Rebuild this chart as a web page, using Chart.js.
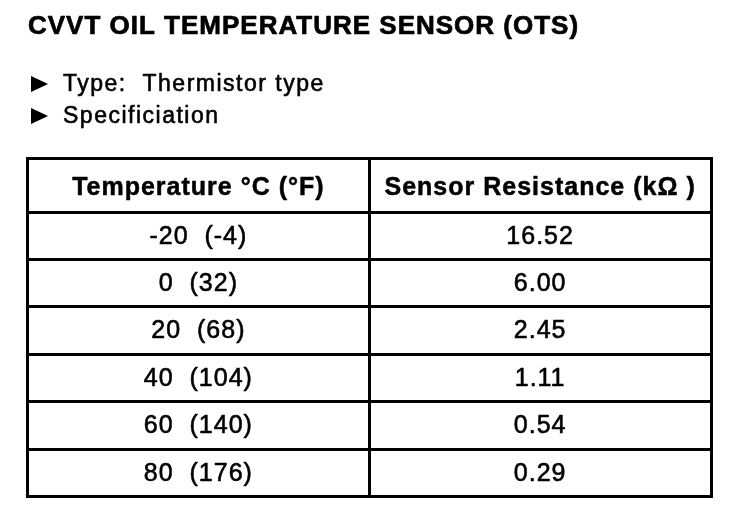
<!DOCTYPE html>
<html>
<head>
<meta charset="utf-8">
<script src="https://cdn.jsdelivr.net/npm/chart.js@4.4.1/dist/chart.umd.min.js"></script>
<style>
  html, body { margin: 0; padding: 0; background: #fff; }
  #wrap { width: 752px; height: 518px; }
</style>
</head>
<body>
<div id="wrap"><canvas id="otsChart"></canvas></div>
<script>
const title = 'CVVT OIL TEMPERATURE SENSOR (OTS)';
const bullets = ['Type:  Thermistor type', 'Specificiation'];
const columns = ['Temperature °C (°F)', 'Sensor Resistance (kΩ )'];
const temperatures = ['-20  (-4)', '0  (32)', '20  (68)', '40  (104)', '60  (140)', '80  (176)'];
const resistances = [16.52, 6.00, 2.45, 1.11, 0.54, 0.29];

const FONT = "'Liberation Sans', Arial, Helvetica, sans-serif";
const LINE = 3;
const HEADER_H = 53.5;

// fill + a hairline stroke so the text has the weight of the scanned sheet
function heavyText(ctx, txt, x, y, stroke) {
    ctx.fillText(txt, x, y);
    if (stroke) {
        ctx.lineWidth = stroke;
        ctx.strokeText(txt, x, y);
    }
}

// draws the table frame and every cell text off the category scales
const specTable = {
    id: 'specTable',
    beforeDatasetsDraw(chart) {
        const ctx = chart.ctx;
        const x = chart.scales.x;
        const y = chart.scales.y;
        const headTop = chart.chartArea.top - HEADER_H;

        const colEdges = [x.left];
        for (let i = 1; i < columns.length; i++) {
            colEdges.push((x.getPixelForValue(i - 1) + x.getPixelForValue(i)) / 2);
        }
        colEdges.push(x.right);

        const rowEdges = [headTop, y.top];
        for (let i = 1; i < temperatures.length; i++) {
            rowEdges.push((y.getPixelForValue(i - 1) + y.getPixelForValue(i)) / 2);
        }
        rowEdges.push(y.bottom);

        ctx.save();
        ctx.fillStyle = '#000';
        const left = colEdges[0] - LINE / 2;
        const width = colEdges[colEdges.length - 1] - colEdges[0] + LINE;
        rowEdges.forEach(py => ctx.fillRect(Math.round(left), Math.round(py - LINE / 2), Math.round(width), LINE));
        colEdges.forEach(px => ctx.fillRect(Math.round(px - LINE / 2), Math.round(headTop - LINE / 2), LINE, Math.round(y.bottom - headTop + LINE)));
        ctx.restore();
    },
    afterDatasetsDraw(chart) {
        const ctx = chart.ctx;
        const x = chart.scales.x;
        const headTop = chart.chartArea.top - HEADER_H;

        ctx.save();
        ctx.fillStyle = '#000';
        ctx.strokeStyle = '#000';
        ctx.lineJoin = 'round';
        ctx.textAlign = 'center';
        ctx.textBaseline = 'middle';

        // header row
        ctx.font = 'bold 25px ' + FONT;
        ctx.letterSpacing = '1px';
        columns.forEach((c, i) => {
            heavyText(ctx, c, x.getPixelForValue(i), headTop + HEADER_H / 2 + 3, 0.5);
        });

        // body cells, positioned by the dataset points
        ctx.font = '25px ' + FONT;
        chart.data.datasets.forEach((ds, d) => {
            const meta = chart.getDatasetMeta(d);
            meta.data.forEach((pt, i) => {
                const txt = d === 0 ? temperatures[i] : resistances[i].toFixed(2);
                heavyText(ctx, txt, pt.x, pt.y + 1, 0.6);
            });
        });

        // title and bullet lines
        ctx.textAlign = 'left';
        ctx.font = 'bold 26px ' + FONT;
        ctx.letterSpacing = '1px';
        heavyText(ctx, title, 28, 27, 0.7);

        ctx.font = '23px ' + FONT;
        ctx.letterSpacing = '1.5px';
        bullets.forEach((b, i) => {
            const cy = 84 + i * 32;
            ctx.beginPath();
            ctx.moveTo(31, cy - 8);
            ctx.lineTo(48, cy);
            ctx.lineTo(31, cy + 8);
            ctx.closePath();
            ctx.fill();
            heavyText(ctx, b, 63, cy + 1, 0.6);
        });
        ctx.restore();
    }
};

const ctx = document.getElementById('otsChart').getContext('2d');
const chart = new Chart(ctx, {
    type: 'scatter',
    data: {
        datasets: [
            {
                label: columns[0],
                data: temperatures.map(t => ({ x: columns[0], y: t })),
                pointRadius: 0
            },
            {
                label: columns[1],
                data: resistances.map((r, i) => ({ x: columns[1], y: temperatures[i] })),
                pointRadius: 0
            }
        ]
    },
    options: {
        responsive: true,
        maintainAspectRatio: false,
        animation: false,
        devicePixelRatio: 1,
        events: [],
        layout: {
            padding: { left: 27.5, right: 41, top: 212, bottom: 21.5 }
        },
        scales: {
            x: { type: 'category', labels: columns, offset: true, display: false },
            y: { type: 'category', labels: temperatures, offset: true, display: false }
        },
        plugins: {
            legend: { display: false },
            tooltip: { enabled: false }
        }
    },
    plugins: [specTable]
});
</script>
</body>
</html>
